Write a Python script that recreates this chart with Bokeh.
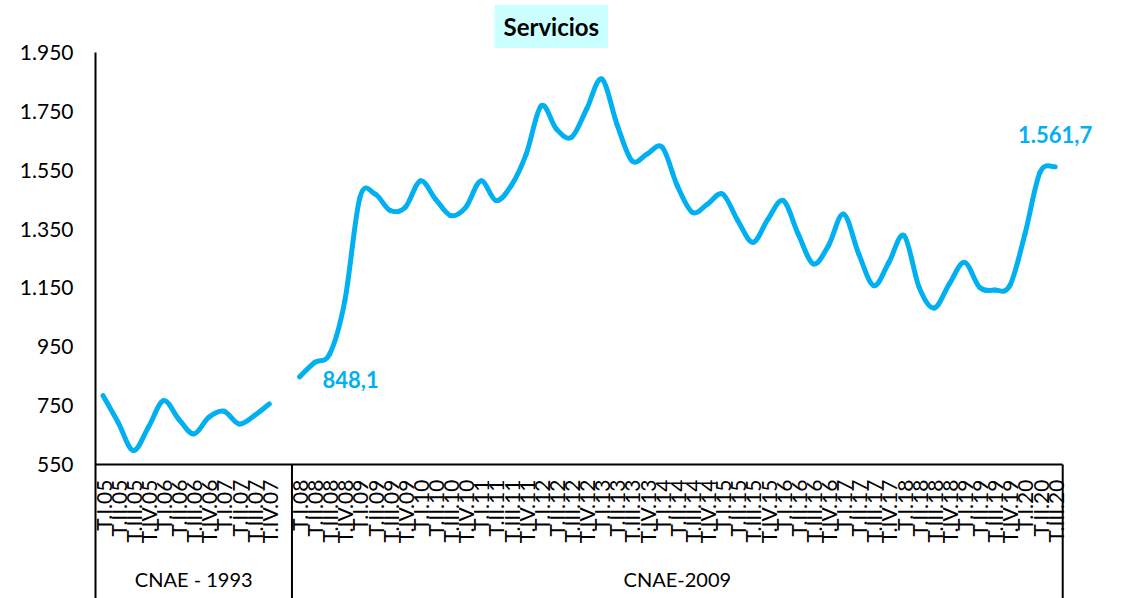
import math
from bokeh.plotting import figure
from bokeh.models import (Range1d, LinearAxis, FixedTicker, Label, LabelSet, ColumnDataSource)
from bokeh.core.properties import value
from bokeh.embed import file_html
from bokeh.resources import INLINE

# ---------------- data ----------------
quarters_1993 = ["T.I.05", "T.II.05", "T.III.05", "T.IV.05",
                 "T.I.06", "T.II.06", "T.III.06", "T.IV.06",
                 "T.I.07", "T.II.07", "T.III.07", "T.IV.07"]
values_1993 = [784, 693, 598, 677, 767, 705, 654, 711, 731, 688, 716, 756]

quarters_2009 = [f"T.{q}.{yy:02d}" for yy in range(8, 21) for q in ("I", "II", "III", "IV")][:51]
values_2009 = [848.1, 897, 926, 1107, 1458, 1469, 1413, 1424, 1514, 1452,
               1396, 1424, 1514, 1447, 1497, 1605, 1769, 1690, 1662, 1758,
               1860, 1707, 1582, 1605, 1628, 1497, 1407, 1435, 1469, 1379,
               1305, 1384, 1447, 1333, 1232, 1294, 1401, 1266, 1158, 1237,
               1328, 1152, 1082, 1164, 1237, 1152, 1143, 1158, 1333, 1543,
               1561.7]

group_names = ["CNAE - 1993", "CNAE-2009"]
y_ticks = [550, 750, 950, 1150, 1350, 1550, 1750, 1950]
title_text = "Servicios"

BLUE = "#00B0F0"
FONT = "Lato"

def fmt_es(v, dec=0):
    s = f"{v:,.{dec}f}"
    return s.replace(",", "#").replace(".", ",").replace("#", ".")

# ---------------- category positions (one empty slot between the two groups) ----------------
labels = quarters_1993 + [""] + quarters_2009
n_cat = len(labels)
x_1993 = list(range(len(quarters_1993)))
x_2009 = [len(quarters_1993) + 1 + j for j in range(len(quarters_2009))]
sep_x = len(quarters_1993) + 0.5          # boundary after the empty slot
left_edge, right_edge = -0.5, n_cat - 0.5

y_start = 95
axis_level = y_ticks[0]
x_range = Range1d(left_edge, right_edge + 2.5)
y_range = Range1d(y_start, y_ticks[-1])

p = figure(width=1110, height=598, x_range=x_range, y_range=y_range,
           output_backend="svg", toolbar_location=None,
           x_axis_location=None, y_axis_location=None,
           min_border_left=95, min_border_right=10, min_border_top=52, min_border_bottom=0)
p.outline_line_color = None
p.xgrid.visible = False
p.ygrid.visible = False
p.background_fill_color = "white"
p.border_fill_color = "white"

# title
p.title.text = title_text
p.title.align = "left"
p.title.vertical_align = "top"
p.title.offset = 399
p.title.standoff = 5
p.title.text_font = FONT
p.title.text_font_size = "24px"
p.title.text_font_style = "bold"
p.title.text_color = "black"
p.title.background_fill_color = "#CCFFFF"
p.title.padding = (9, 7)

# y axis
yaxis = LinearAxis(ticker=FixedTicker(ticks=y_ticks),
                   major_label_overrides={t: fmt_es(t) for t in y_ticks})
yaxis.axis_line_width = 2
yaxis.axis_line_color = "black"
yaxis.major_tick_line_color = None
yaxis.minor_tick_line_color = None
yaxis.major_tick_out = 0
yaxis.major_label_standoff = 22
yaxis.major_label_text_font = FONT
yaxis.major_label_text_font_size = "21px"
yaxis.major_label_text_color = "black"
p.add_layout(yaxis, "left")

# x axis (quarters) drawn at the 550 level
xaxis = LinearAxis(fixed_location=axis_level, bounds=(left_edge, right_edge),
                   ticker=FixedTicker(ticks=list(range(n_cat))),
                   major_label_overrides={i: lab for i, lab in enumerate(labels)})
xaxis.axis_line_width = 2
xaxis.axis_line_color = "black"
xaxis.major_tick_line_color = None
xaxis.minor_tick_line_color = None
xaxis.major_label_orientation = math.pi / 2
xaxis.major_label_standoff = 9
xaxis.major_label_text_font = FONT
xaxis.major_label_text_font_size = "21px"
xaxis.major_label_text_color = "black"
p.add_layout(xaxis, "below")

# group separator and right border of the category area
p.segment(x0=[sep_x, right_edge], y0=[y_start] * 2, x1=[sep_x, right_edge], y1=[axis_level] * 2,
          line_color="black", line_width=2)

# group labels
group_centers = [(left_edge + sep_x) / 2, (sep_x + right_edge) / 2]
gsrc = ColumnDataSource(dict(x=group_centers, y=[y_start] * 2, text=group_names))
p.add_layout(LabelSet(x="x", y="y", text="text", source=gsrc, text_align="center",
                      text_baseline="bottom", y_offset=8, text_font=value(FONT),
                      text_font_size=value("20px"), text_color="black"))

# smooth line via bezier segments
def bezier(xs, ys):
    n = len(xs)
    d = dict(x0=[], y0=[], x1=[], y1=[], cx0=[], cy0=[], cx1=[], cy1=[])
    for i in range(n - 1):
        xp, yp = (xs[i - 1], ys[i - 1]) if i > 0 else (xs[i], ys[i])
        xn, yn = (xs[i + 2], ys[i + 2]) if i + 2 < n else (xs[i + 1], ys[i + 1])
        d["x0"].append(xs[i]); d["y0"].append(ys[i])
        d["x1"].append(xs[i + 1]); d["y1"].append(ys[i + 1])
        d["cx0"].append(xs[i] + (xs[i + 1] - xp) / 6)
        d["cy0"].append(ys[i] + (ys[i + 1] - yp) / 6)
        d["cx1"].append(xs[i + 1] - (xn - xs[i]) / 6)
        d["cy1"].append(ys[i + 1] - (yn - ys[i]) / 6)
    return d

for xs, vs in ((x_1993, values_1993), (x_2009, values_2009)):
    p.bezier(source=ColumnDataSource(bezier(xs, vs)), x0="x0", y0="y0", x1="x1", y1="y1",
             cx0="cx0", cy0="cy0", cx1="cx1", cy1="cy1",
             line_color=BLUE, line_width=5, line_cap="round")

# data labels
p.add_layout(Label(x=x_2009[0], y=values_2009[0], text=fmt_es(values_2009[0], 1),
                   x_offset=23, y_offset=-3, text_align="left", text_baseline="middle",
                   text_font=FONT, text_font_size="22px", text_font_style="bold",
                   text_color=BLUE))
p.add_layout(Label(x=x_2009[-1], y=values_2009[-1], text=fmt_es(values_2009[-1], 1),
                   x_offset=0, y_offset=24, text_align="center", text_baseline="bottom",
                   text_font=FONT, text_font_size="22px", text_font_style="bold",
                   text_color=BLUE))

open("out.html", "w").write(file_html(p, INLINE))
